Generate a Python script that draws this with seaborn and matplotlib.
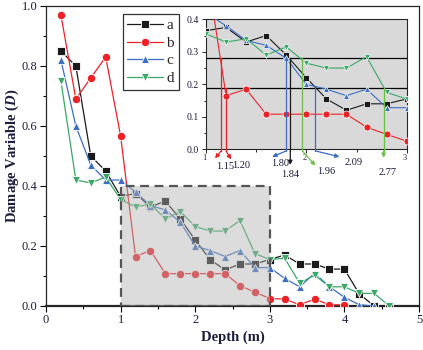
import numpy as np
import pandas as pd
import seaborn as sns
from matplotlib import pyplot as plt
from matplotlib.patches import Rectangle

# depth (m) for each series
DEPTH_A = [0.2, 0.4, 0.6, 0.8, 1.0, 1.2, 1.4, 1.6, 1.8, 2.0, 2.2, 2.4, 2.6, 2.8, 3.0,
           3.2, 3.4, 3.6, 3.8, 4.0, 4.2, 4.4, 4.6]
D_A = [0.85, 0.80, 0.50, 0.45, 0.365, 0.375, 0.33, 0.35, 0.29, 0.22, 0.155, 0.12, 0.14, 0.14, 0.155,
       0.17, 0.14, 0.14, 0.123, 0.123, 0.04, 0.0, 0.0]

DEPTH_B = [0.2, 0.4, 0.6, 0.8, 1.0, 1.2, 1.4, 1.6, 1.8, 2.0, 2.2, 2.4, 2.6, 2.8, 3.0,
           3.2, 3.4, 3.6, 3.8, 4.0]
D_B = [0.97, 0.69, 0.76, 0.83, 0.567, 0.165, 0.185, 0.108, 0.108, 0.108, 0.108, 0.108, 0.068, 0.046, 0.025,
       0.023, 0.004, 0.023, 0.004, 0.004]

DEPTH_C = [0.2, 0.4, 0.6, 0.8, 1.0, 1.2, 1.4, 1.6, 1.8, 2.0, 2.2, 2.4, 2.6, 2.8, 3.0,
           3.2, 3.4, 3.6, 3.8, 4.0, 4.2, 4.4]
D_C = [0.82, 0.60, 0.47, 0.42, 0.42, 0.38, 0.335, 0.32, 0.28, 0.20, 0.185, 0.165, 0.185, 0.128, 0.128,
       0.092, 0.064, 0.109, 0.064, 0.029, 0.004, 0.0]

DEPTH_D = [0.2, 0.4, 0.6, 0.8, 1.0, 1.2, 1.4, 1.6, 1.8, 2.0, 2.2, 2.4, 2.6, 2.8, 3.0,
           3.2, 3.4, 3.6, 3.8, 4.0, 4.2, 4.4, 4.6]
D_D = [0.75, 0.42, 0.41, 0.43, 0.355, 0.33, 0.34, 0.29, 0.315, 0.265, 0.25, 0.25, 0.285, 0.175, 0.155,
       0.159, 0.076, 0.103, 0.064, 0.064, 0.042, 0.042, 0.0]

SERIES = ["a", "b", "c", "d"]

# threshold lines and crossing depths shown in the inset
THRESHOLDS = [0.28, 0.19]
CROSS_DEPTH = [1.15, 1.20, 1.80, 1.84, 1.96, 2.09, 2.77]
CROSS_LEVEL = [0.28, 0.19, 0.28, 0.28, 0.28, 0.19, 0.19]
CROSS_LABEL = ["1.15", "1.20", "1.80", "1.84", "1.96", "2.09", "2.77"]

COLORS = {"a": "#1a1a1a", "b": "#ec2227", "c": "#3b6ec4", "d": "#3aa866"}
MARKERS = {"a": "s", "b": "o", "c": "^", "d": "v"}
TXT = "#1c1c3c"

df = pd.concat([
    pd.DataFrame({"Depth": DEPTH_A, "D": D_A, "series": "a"}),
    pd.DataFrame({"Depth": DEPTH_B, "D": D_B, "series": "b"}),
    pd.DataFrame({"Depth": DEPTH_C, "D": D_C, "series": "c"}),
    pd.DataFrame({"Depth": DEPTH_D, "D": D_D, "series": "d"}),
], ignore_index=True)

sns.set_style("ticks")
plt.rcParams["font.family"] = ["Liberation Serif", "DejaVu Serif"]
plt.rcParams["mathtext.fontset"] = "custom"
plt.rcParams["mathtext.it"] = "Liberation Serif:italic:bold"
plt.rcParams["mathtext.rm"] = "Liberation Serif:bold"

fig = plt.figure(figsize=(4.23, 3.5), dpi=100)
ax = fig.add_axes([46 / 423, 44 / 350, 373 / 423, 300 / 350])

sns.lineplot(data=df, x="Depth", y="D", hue="series", style="series",
             palette=COLORS, markers=MARKERS, dashes=False, hue_order=SERIES,
             markersize=6, markeredgewidth=0.6, linewidth=0.9, ax=ax,
             sort=False, estimator=None, zorder=3)

# zoom window, drawn over the lines to fade them
ax.add_patch(Rectangle((1, 0), 2, 0.4, facecolor="#b2b2b2", alpha=0.45,
                       edgecolor="none", zorder=4))
ax.add_patch(Rectangle((1, 0), 2, 0.4, facecolor="none", edgecolor="#555555",
                       linestyle=(0, (4, 2.5)), linewidth=1.6, zorder=5))

ax.set_xlim(0, 5)
ax.set_ylim(0, 1.0)
ax.set_xticks(np.arange(0, 5.1, 1))
ax.set_xticks(np.arange(0.5, 5, 1), minor=True)
ax.set_yticks(np.arange(0, 1.01, 0.2))
ax.set_yticks(np.arange(0.1, 1.0, 0.2), minor=True)
ax.yaxis.set_major_formatter(plt.FormatStrFormatter("%.1f"))
ax.tick_params(which="both", direction="out", labelsize=9, colors="black",
               labelcolor=TXT, width=0.8)
ax.tick_params(which="major", length=4, pad=2)
ax.tick_params(which="minor", length=2.5)
for s in ax.spines.values():
    s.set_linewidth(0.9)
    s.set_visible(True)
ax.spines["bottom"].set_linewidth(1.6)
ax.set_xlabel("Depth (m)", fontsize=10.5, fontweight="bold", color=TXT, labelpad=3)
ax.set_ylabel(r"Damage Variable ($D$)", fontsize=10.5, fontweight="bold", color=TXT, labelpad=1)

handles, labels = ax.get_legend_handles_labels()
leg = ax.legend(handles, labels, loc="upper left", bbox_to_anchor=(0.206, 0.973),
                frameon=True, fancybox=False, edgecolor="black", fontsize=11,
                handlelength=2.3, handletextpad=0.25, labelspacing=0.25,
                borderpad=0.3, borderaxespad=0)
leg.get_frame().set_linewidth(0.9)

# inset
axi = fig.add_axes([206 / 423, 1 - 149.3 / 350, 200.7 / 423, 130 / 350])
axi.set_facecolor("#d9d9d9")
sns.lineplot(data=df, x="Depth", y="D", hue="series", style="series",
             palette=COLORS, markers=MARKERS, dashes=False, hue_order=SERIES,
             markersize=5, markeredgewidth=0.5, linewidth=0.8, ax=axi,
             sort=False, estimator=None, legend=False, zorder=3)
axi.set_xlim(1, 3)
axi.set_ylim(0, 0.4)
for t in THRESHOLDS:
    axi.axhline(t, color="black", linewidth=0.9, zorder=2)

TIP_DX = [-0.06, 0.05, -0.14, 0.0, 0.13, 0.24, 0.0]
TIP_Y = [-0.028, -0.031, -0.023, -0.048, -0.05, -0.023, -0.026]
LAB_X = [1.19, 1.355, 1.737, 1.837, 2.203, 2.468, 2.807]
LAB_Y = [-0.054, -0.050, -0.045, -0.079, -0.067, -0.040, -0.070]
LINE_COL = ["#ec2227", "#ec2227", "#3b6ec4", "#1a1a1a", "#6cbf45", "#3b6ec4", "#6cbf45"]
for x, lvl, lab, dx, ty, lx, ly, c in zip(CROSS_DEPTH, CROSS_LEVEL, CROSS_LABEL,
                                          TIP_DX, TIP_Y, LAB_X, LAB_Y, LINE_COL):
    axi.plot([x, x], [lvl, -0.005], color=c, linewidth=0.9, clip_on=False, zorder=4)
    axi.annotate("", xy=(x + dx, ty), xytext=(x, -0.005), annotation_clip=False,
                 arrowprops=dict(arrowstyle="-|>", color=c, lw=0.9,
                                 mutation_scale=6, shrinkA=0, shrinkB=0))
    axi.text(lx, ly, lab, fontsize=7.5, color=TXT, ha="center", va="center")

axi.set_xticks([1, 2, 3])
axi.set_xticks([1.5, 2.5], minor=True)
axi.set_yticks(np.arange(0, 0.41, 0.1))
axi.set_yticks(np.arange(0.05, 0.4, 0.1), minor=True)
axi.yaxis.set_major_formatter(plt.FormatStrFormatter("%.1f"))
axi.tick_params(which="both", direction="out", labelcolor=TXT, width=0.7)
axi.tick_params(axis="y", labelsize=7, length=3, pad=2)
axi.tick_params(axis="y", which="minor", length=1.8)
axi.tick_params(axis="x", labelsize=6, length=3, pad=0.5)
axi.tick_params(axis="x", which="minor", length=1.8)
for lbl in axi.get_xticklabels():
    lbl.set_horizontalalignment("right")
axi.set_xlabel("")
axi.set_ylabel("")
for s in axi.spines.values():
    s.set_linewidth(0.8)
    s.set_visible(True)

fig.savefig("out.png", dpi=100)
